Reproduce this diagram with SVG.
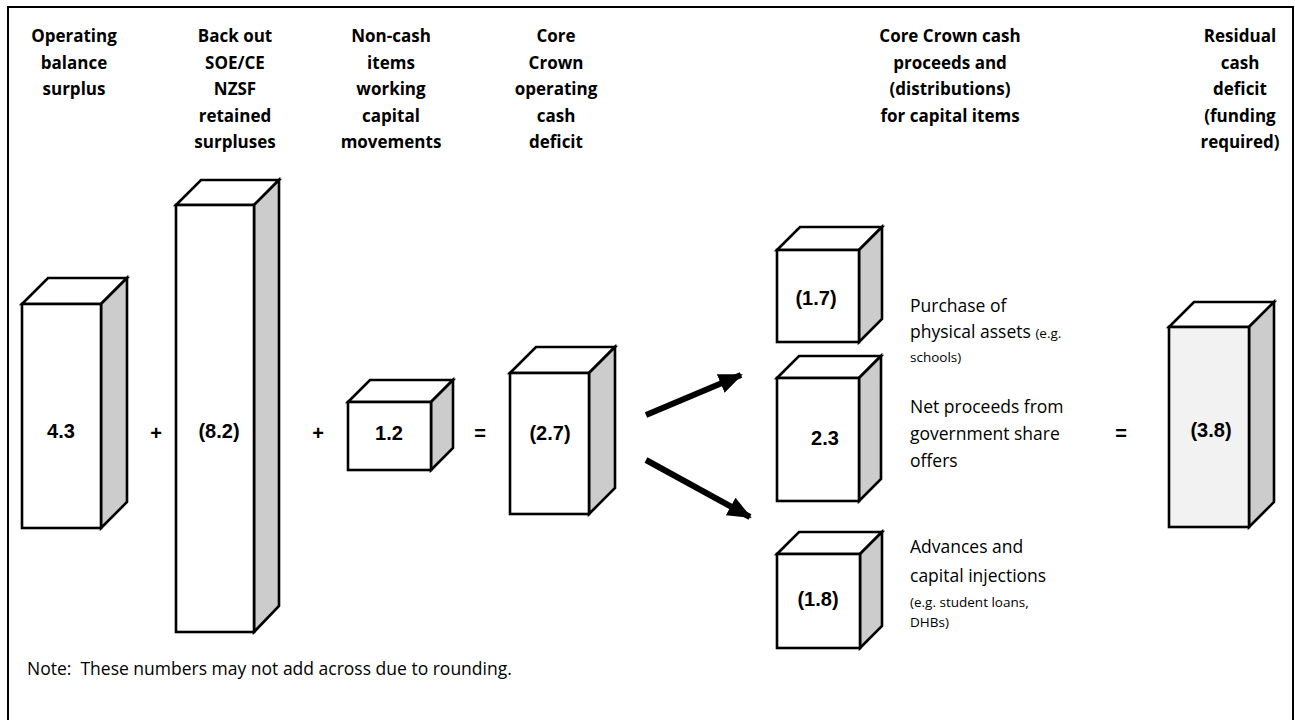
<svg xmlns="http://www.w3.org/2000/svg" width="1295" height="720" viewBox="0 0 1295 720">
<defs>
<style>
.front{fill:#ffffff;stroke:#000;stroke-width:2.6;stroke-linejoin:miter}
.front2{fill:#f2f2f2;stroke:#000;stroke-width:2.6}
.top{fill:#ffffff;stroke:#000;stroke-width:2.6;stroke-linejoin:miter}
.side{fill:#cccccc;stroke:#000;stroke-width:2.6;stroke-linejoin:miter}
.num{font-family:"Liberation Sans",Arial,sans-serif;font-weight:bold;font-size:20px;text-anchor:middle;fill:#000}
.hdr{font-family:"Open Sans","Noto Sans",sans-serif;font-weight:bold;font-size:17px;text-anchor:middle;fill:#000}
.lbl{font-family:"Open Sans","Noto Sans",sans-serif;font-size:17.5px;fill:#000}
.sm{font-size:13.5px}
.note{font-family:"Open Sans","Noto Sans",sans-serif;font-size:17.5px;fill:#000;white-space:pre}
.arrow{stroke:#000;stroke-width:6;fill:none}
</style>
<marker id="ah" markerUnits="userSpaceOnUse" markerWidth="24" markerHeight="24" viewBox="0 0 24 24" refX="22" refY="12" orient="auto">
<path d="M0,2 L24,12 L0,22 z" fill="#000"/>
</marker>
</defs>
<rect x="0" y="0" width="1295" height="720" fill="#fff"/>
<rect x="8" y="7" width="1285" height="740" fill="none" stroke="#000" stroke-width="2"/>

<g id="headers">
<text class="hdr" x="74" y="42">Operating</text>
<text class="hdr" x="74" y="68.5">balance</text>
<text class="hdr" x="74" y="95">surplus</text>
<text class="hdr" x="235" y="42">Back out</text>
<text class="hdr" x="235" y="68.5">SOE/CE</text>
<text class="hdr" x="235" y="95">NZSF</text>
<text class="hdr" x="235" y="121.5">retained</text>
<text class="hdr" x="235" y="148">surpluses</text>
<text class="hdr" x="391" y="42">Non-cash</text>
<text class="hdr" x="391" y="68.5">items</text>
<text class="hdr" x="391" y="95">working</text>
<text class="hdr" x="391" y="121.5">capital</text>
<text class="hdr" x="391" y="148">movements</text>
<text class="hdr" x="556" y="42">Core</text>
<text class="hdr" x="556" y="68.5">Crown</text>
<text class="hdr" x="556" y="95">operating</text>
<text class="hdr" x="556" y="121.5">cash</text>
<text class="hdr" x="556" y="148">deficit</text>
<text class="hdr" x="950" y="42">Core Crown cash</text>
<text class="hdr" x="950" y="68.5">proceeds and</text>
<text class="hdr" x="950" y="95">(distributions)</text>
<text class="hdr" x="950" y="121.5">for capital items</text>
<text class="hdr" x="1240" y="42">Residual</text>
<text class="hdr" x="1240" y="68.5">cash</text>
<text class="hdr" x="1240" y="95">deficit</text>
<text class="hdr" x="1240" y="121.5">(funding</text>
<text class="hdr" x="1240" y="148">required)</text>
</g>

<g id="box-operating-balance">
<polygon class="top" points="22,304 48,278 127,278 101,304"/>
<polygon class="side" points="101,304 127,278 127,502 101,528"/>
<rect class="front" x="22" y="304" width="79" height="224"/>
<text class="num" x="61" y="438">4.3</text>
</g>

<g id="box-back-out">
<polygon class="top" points="176,205 201,180 279,180 254,205"/>
<polygon class="side" points="254,205 279,180 279,606 254,632"/>
<rect class="front" x="176" y="205" width="78" height="427"/>
<text class="num" x="219" y="438">(8.2)</text>
</g>

<g id="box-non-cash">
<polygon class="top" points="348,402 370,380 453,380 431,402"/>
<polygon class="side" points="431,402 453,380 453,448 431,470"/>
<rect class="front" x="348" y="402" width="83" height="68"/>
<text class="num" x="389" y="440">1.2</text>
</g>

<g id="box-core-crown">
<polygon class="top" points="510,373 536,347 615,347 589,373"/>
<polygon class="side" points="589,373 615,347 615,488 589,514"/>
<rect class="front" x="510" y="373" width="79" height="141"/>
<text class="num" x="550" y="440">(2.7)</text>
</g>

<g id="box-physical-assets">
<polygon class="top" points="777,250 800,227 882,227 859,250"/>
<polygon class="side" points="859,250 882,227 882,319 859,342"/>
<rect class="front" x="777" y="250" width="82" height="92"/>
<text class="num" x="816" y="305">(1.7)</text>
<text class="lbl" x="910" y="312">Purchase of</text>
<text class="lbl" x="910" y="338">physical assets <tspan class="sm">(e.g.</tspan></text>
<text class="lbl sm" x="910" y="362">schools)</text>
</g>

<g id="box-share-offers">
<polygon class="top" points="777,378 799,356 881,356 859,378"/>
<polygon class="side" points="859,378 881,356 881,479 859,501"/>
<rect class="front" x="777" y="378" width="82" height="123"/>
<text class="num" x="825" y="445">2.3</text>
<text class="lbl" x="910" y="413">Net proceeds from</text>
<text class="lbl" x="910" y="440">government share</text>
<text class="lbl" x="910" y="467">offers</text>
</g>

<g id="box-advances">
<polygon class="top" points="777,554 799,532 882,532 860,554"/>
<polygon class="side" points="860,554 882,532 882,626 860,648"/>
<rect class="front" x="777" y="554" width="83" height="94"/>
<text class="num" x="818" y="606">(1.8)</text>
<text class="lbl" x="910" y="553">Advances and</text>
<text class="lbl" x="910" y="582">capital injections</text>
<text class="lbl sm" x="910" y="607">(e.g. student loans,</text>
<text class="lbl sm" x="910" y="627">DHBs)</text>
</g>

<g id="box-residual">
<polygon class="top" points="1169,327 1194,302 1274,302 1249,327"/>
<polygon class="side" points="1249,327 1274,302 1274,502 1249,527"/>
<rect class="front2" x="1169" y="327" width="80" height="200"/>
<text class="num" x="1211" y="437">(3.8)</text>
</g>

<g id="operators">
<text class="num" x="156" y="440">+</text>
<text class="num" x="318" y="440">+</text>
<text class="num" x="480" y="440">=</text>
<text class="num" x="1121" y="440">=</text>
</g>

<g id="connectors">
<line class="arrow" x1="646" y1="415" x2="741" y2="375" marker-end="url(#ah)"/>
<line class="arrow" x1="646" y1="460" x2="750" y2="517" marker-end="url(#ah)"/>
</g>

<g id="note">
<text class="note" x="27" y="675" xml:space="preserve">Note:  These numbers may not add across due to rounding.</text>
</g>
</svg>
